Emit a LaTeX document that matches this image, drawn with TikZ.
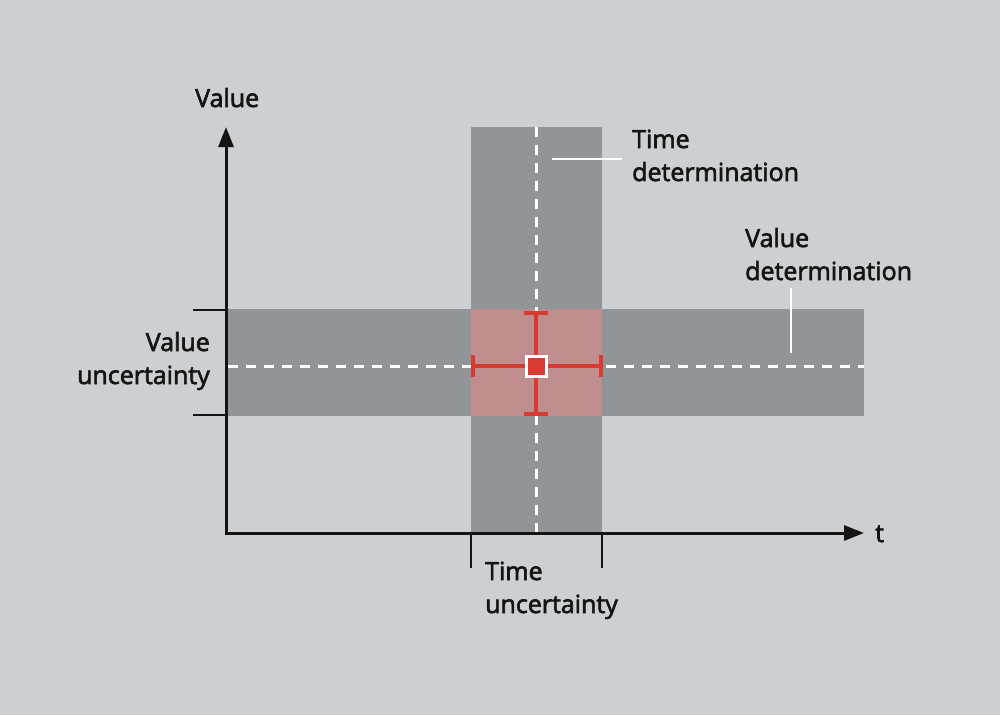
\documentclass[tikz,border=0pt]{standalone}
\usepackage{fontspec}
\setmainfont{Open Sans}[FakeBold=2.5]
\usetikzlibrary{arrows.meta}
\definecolor{bg}{RGB}{205,208,210}
\definecolor{band}{RGB}{146,149,151}
\definecolor{overlap}{RGB}{192,142,142}
\definecolor{redc}{RGB}{214,58,48}
\definecolor{ink}{RGB}{20,20,20}
\begin{document}
\begin{tikzpicture}[x=1pt,y=-1pt,
  axis/.style={draw=ink,line width=3pt},
  tick/.style={draw=ink,line width=2.5pt},
  guide/.style={draw=white,line width=3pt,dash pattern=on 10pt off 8pt},
  leader/.style={draw=white,line width=2.5pt},
  errbar/.style={draw=redc,line width=4.5pt},
  lbl/.style={font=\fontsize{25}{33}\selectfont,text=ink,inner sep=0pt}]
\fill[bg] (0,0) rectangle (1000,715);
\useasboundingbox (0,0) rectangle (1000,715);
% bands
\fill[band] (471,127) rectangle (602,533);
\fill[band] (228,309) rectangle (864,416);
\fill[overlap] (471,309) rectangle (602,416);
% dashed guides
\coordinate (vt) at (536,127);
\coordinate (vb) at (536,533);
\coordinate (hl) at (228,366);
\coordinate (hr) at (864,366);
\draw[guide] (vt) -- (vb);
\draw[guide] (hl) -- (hr);
% axes
\coordinate (o) at (226,533);
\coordinate (ytip) at (226,127);
\coordinate (xtip) at (864,533);
\draw[axis,-{Triangle[length=20pt,width=15pt]}] (o) -- (ytip);
\draw[axis,-{Triangle[length=20pt,width=15pt]}] ([xshift=-1.5pt]o) -- (xtip);
% ticks
\coordinate (lt1) at (193,310); \coordinate (lt1e) at (226,310);
\coordinate (lt2) at (193,415); \coordinate (lt2e) at (226,415);
\coordinate (bt1) at (471,533); \coordinate (bt1e) at (471,568);
\coordinate (bt2) at (602,533); \coordinate (bt2e) at (602,568);
\draw[tick] (lt1) -- (lt1e);
\draw[tick] (lt2) -- (lt2e);
\draw[tick] (bt1) -- (bt1e);
\draw[tick] (bt2) -- (bt2e);
% red error cross
\coordinate (et) at (536,313); \coordinate (eb) at (536,414);
\coordinate (el) at (473,366); \coordinate (er) at (601,366);
\draw[errbar] (et) -- (eb);
\draw[errbar] (el) -- (er);
\draw[errbar] ([xshift=-12pt]et) -- ([xshift=12pt]et);
\draw[errbar] ([xshift=-12pt]eb) -- ([xshift=12pt]eb);
\draw[errbar] ([yshift=-11pt]el) -- ([yshift=11pt]el);
\draw[errbar] ([yshift=-11pt]er) -- ([yshift=11pt]er);
\node[draw=white,fill=redc,line width=3pt,minimum size=20pt,inner sep=0pt] (c) at (536,366) {};
% leaders
\coordinate (tl1) at (552,159); \coordinate (tl2) at (622,159);
\draw[leader] (tl1) -- (tl2);
\coordinate (vl1) at (791,288); \coordinate (vl2) at (791,353);
\draw[leader] (vl1) -- (vl2);
% labels (base anchor = last line's baseline)
\node[lbl,anchor=base west] (yl) at (195,107) {Value};
\node[lbl,anchor=base west] (xl) at (875,542) {t};
\node[lbl,anchor=base west,align=left] (td) at (632,181) {Time\\determination};
\node[lbl,anchor=base west,align=left] (vd) at (745,280) {Value\\determination};
\node[lbl,anchor=base east,align=right] (vu) at (210,384) {Value\\uncertainty};
\node[lbl,anchor=base west,align=left] (tu) at (485,613) {Time\\uncertainty};
\end{tikzpicture}
\end{document}
